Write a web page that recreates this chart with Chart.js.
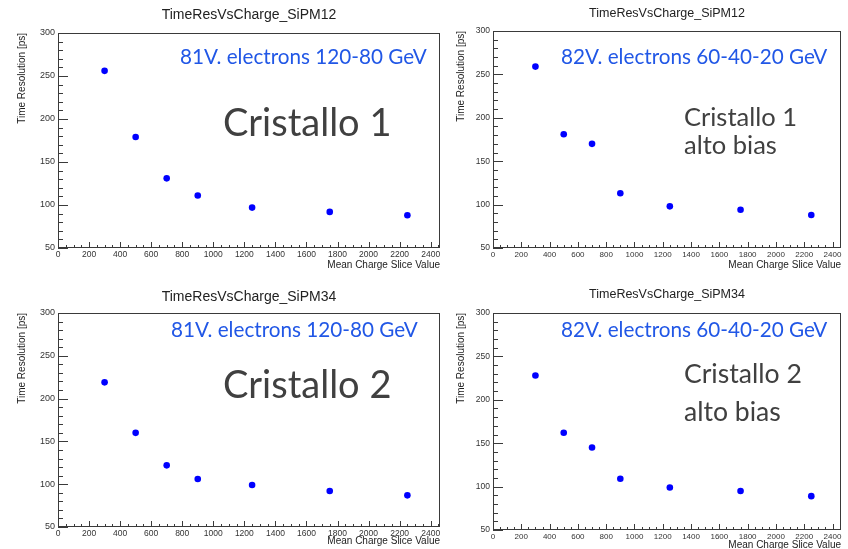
<!DOCTYPE html>
<html lang="it">
<head>
<meta charset="UTF-8">
<title>TimeResVsCharge</title>
<script src="https://cdn.jsdelivr.net/npm/chart.js"></script>
<style>
  html, body { margin: 0; padding: 0; background: #fff; }
  body { width: 848px; height: 549px; position: relative; overflow: hidden; }
  canvas { position: absolute; }
  .note { position: absolute; font-family: Lato, "Open Sans", sans-serif; line-height: 1; white-space: nowrap; }
  .blue { color: #2157e6; font-size: 20.7px; }
  .gray { color: #404040; }
</style>
</head>
<body>
<canvas id="p1"></canvas>
<canvas id="p2"></canvas>
<canvas id="p3"></canvas>
<canvas id="p4"></canvas>

<div class="note blue" style="left:180px; top:46px;">81V. electrons 120-80 GeV</div>
<div class="note gray" style="left:223px; top:102px; font-size:38px;">Cristallo 1</div>
<div class="note blue" style="left:561px; top:46px;">82V. electrons 60-40-20 GeV</div>
<div class="note gray" style="left:684px; top:102px; font-size:25.5px; line-height:28.3px;">Cristallo 1<br>alto bias</div>
<div class="note blue" style="left:171px; top:319px;">81V. electrons 120-80 GeV</div>
<div class="note gray" style="left:223px; top:364px; font-size:38px;">Cristallo 2</div>
<div class="note blue" style="left:561px; top:319px;">82V. electrons 60-40-20 GeV</div>
<div class="note gray" style="left:684px; top:354px; font-size:26.6px; line-height:38.4px;">Cristallo 2<br>alto bias</div>

<script>
// mean charge of each slice (x) and time resolution in ps (y)
const chargeSlices = [300, 500, 700, 900, 1250, 1750, 2250];
const sipm12_81V = [256, 179, 131, 111, 97, 92, 88];
const sipm12_82V = [259, 181, 170, 113, 98, 94, 88];
const sipm34_81V = [219, 160, 122, 106, 99, 92, 87];
const sipm34_82V = [228, 162, 145, 109, 99, 95, 89];

const xTickValues = [0, 200, 400, 600, 800, 1000, 1200, 1400, 1600, 1800, 2000, 2200, 2400];
const yTickValues = [50, 100, 150, 200, 250, 300];
const xMinorStep = 50;
const yMinorStep = 10;

const rootFont = 'Liberation Sans, Arial, sans-serif';

// ROOT style frame with ticks pointing inside
const rootFrame = {
    id: 'rootFrame',
    beforeDatasetsDraw(chart) {
        const { ctx, chartArea: a, scales: { x, y } } = chart;
        ctx.save();
        ctx.strokeStyle = '#3a3a3a';
        ctx.lineWidth = 1;
        ctx.strokeRect(a.left + 0.5, a.top + 0.5, a.right - a.left - 1, a.bottom - a.top - 1);
        ctx.beginPath();
        for (let v = x.min; v <= x.max; v += xMinorStep) {
            const px = Math.round(x.getPixelForValue(v)) + 0.5;
            const len = v % 200 === 0 ? 6 : 3;
            ctx.moveTo(px, a.bottom);
            ctx.lineTo(px, a.bottom - len);
        }
        for (let v = y.min; v <= y.max; v += yMinorStep) {
            const py = Math.round(y.getPixelForValue(v)) + 0.5;
            const len = v % 50 === 0 ? 10 : 5;
            ctx.moveTo(a.left, py);
            ctx.lineTo(a.left + len, py);
        }
        ctx.stroke();
        ctx.restore();
    }
};

function makePanel(id, titleText, values, p) {
    const canvas = document.getElementById(id);
    canvas.width = p.w;
    canvas.height = p.h;
    canvas.style.left = p.x + 'px';
    canvas.style.top = p.y + 'px';
    const titleLH = p.titleSize * 1.2;
    const axisLH = 10 * 1.2;

    new Chart(canvas, {
        type: 'scatter',
        data: {
            datasets: [{
                data: chargeSlices.map((c, i) => ({ x: c, y: values[i] })),
                backgroundColor: '#0000ff',
                borderWidth: 0,
                pointRadius: 3.3,
                pointHoverRadius: 3.3
            }]
        },
        options: {
            responsive: false,
            animation: false,
            layout: { padding: { left: 0, top: 0, right: p.w - p.area[2], bottom: 0 } },
            plugins: {
                legend: { display: false },
                tooltip: { enabled: false },
                title: {
                    display: true,
                    text: titleText,
                    fullSize: false,
                    color: '#222',
                    font: { family: rootFont, size: p.titleSize, weight: 'normal' },
                    padding: { top: p.titleY - titleLH / 2, bottom: p.area[1] - p.titleY - titleLH / 2 }
                }
            },
            scales: {
                x: {
                    type: 'linear',
                    min: 0,
                    max: 2460,
                    afterBuildTicks: s => { s.ticks = xTickValues.map(v => ({ value: v })); },
                    afterFit: s => { s.height = p.h - p.area[3]; },
                    grid: { display: false, drawTicks: false },
                    border: { display: false },
                    ticks: {
                        autoSkip: false, maxRotation: 0, padding: 2, color: '#333',
                        font: { family: rootFont, size: p.xTickSize },
                        callback: v => String(v)
                    },
                    title: {
                        display: true, text: 'Mean Charge Slice Value', align: 'end', color: '#222',
                        font: { family: rootFont, size: 10 },
                        padding: { top: 0, bottom: p.h - p.xTitleY - axisLH / 2 }
                    }
                },
                y: {
                    min: 50,
                    max: 300,
                    afterBuildTicks: s => { s.ticks = yTickValues.map(v => ({ value: v })); },
                    afterFit: s => { s.width = p.area[0]; },
                    grid: { display: false, drawTicks: false },
                    border: { display: false },
                    ticks: {
                        padding: 3, color: '#333',
                        font: { family: rootFont, size: p.yTickSize },
                        callback: v => String(v)
                    },
                    title: {
                        display: true, text: 'Time Resolution [ps]', align: 'end', color: '#222',
                        font: { family: rootFont, size: 10 },
                        padding: { top: p.yTitleX - axisLH / 2, bottom: 0 }
                    }
                }
            }
        },
        plugins: [rootFrame]
    });
}

makePanel('p1', 'TimeResVsCharge_SiPM12', sipm12_81V,
    { x: 0, y: 0, w: 444, h: 275, area: [58, 33, 440, 248], titleSize: 14, titleY: 15,
      xTickSize: 8.5, yTickSize: 9, xTitleY: 265, yTitleX: 22.7 });
makePanel('p2', 'TimeResVsCharge_SiPM12', sipm12_82V,
    { x: 440, y: 0, w: 408, h: 275, area: [53, 31, 401, 248], titleSize: 12.5, titleY: 13.5,
      xTickSize: 8, yTickSize: 8.5, xTitleY: 265, yTitleX: 21.7 });
makePanel('p3', 'TimeResVsCharge_SiPM34', sipm34_81V,
    { x: 0, y: 275, w: 444, h: 285, area: [58, 38, 440, 252], titleSize: 14, titleY: 21.7,
      xTickSize: 8.5, yTickSize: 9, xTitleY: 266.7, yTitleX: 22.5 });
makePanel('p4', 'TimeResVsCharge_SiPM34', sipm34_82V,
    { x: 440, y: 275, w: 408, h: 285, area: [53, 38, 401, 255], titleSize: 12.5, titleY: 20,
      xTickSize: 8, yTickSize: 8.5, xTitleY: 270, yTitleX: 21 });
</script>
</body>
</html>
